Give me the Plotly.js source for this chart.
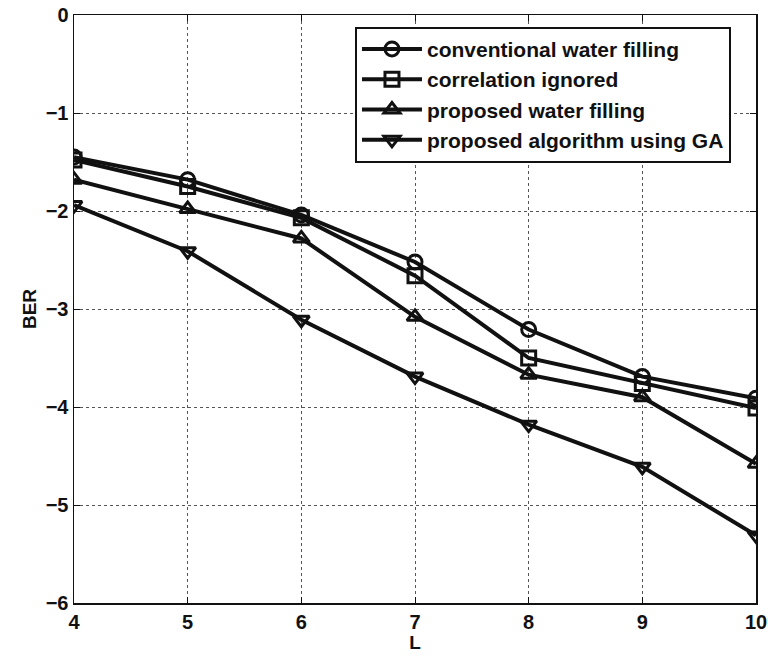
<!DOCTYPE html>
<html>
<head>
<meta charset="utf-8">
<script src="https://cdn.plot.ly/plotly-3.0.1.min.js"></script>
<style>html,body{margin:0;padding:0;background:#fff;}#chart{width:768px;height:659px;}</style>
</head>
<body>
<div id="chart"></div>
<script>
const L = [4, 5, 6, 7, 8, 9, 10];
const conventional = [-1.45, -1.68, -2.04, -2.52, -3.21, -3.69, -3.91];
const corrIgnored = [-1.48, -1.75, -2.07, -2.66, -3.50, -3.76, -4.01];
const proposedWF = [-1.68, -1.98, -2.28, -3.08, -3.67, -3.90, -4.58];
const proposedGA = [-1.94, -2.41, -3.11, -3.69, -4.18, -4.61, -5.31];
const xTickText = ['4', '5', '6', '7', '8', '9', '10'];
const yTickVals = [-6, -5, -4, -3, -2, -1, 0];
const yTickText = ['\u22126', '\u22125', '\u22124', '\u22123', '\u22122', '\u22121', '0'];
const names = ['conventional water filling', 'correlation ignored', 'proposed water filling', 'proposed algorithm using GA'];
const symbols = ['circle-open', 'square-open', 'triangle-up-open', 'triangle-down-open'];
const series = [conventional, corrIgnored, proposedWF, proposedGA];

const traces = series.map((ys, i) => ({
  x: L, y: ys, name: names[i], type: 'scatter', mode: 'lines+markers',
  line: {color: '#111', width: 4},
  marker: {symbol: symbols[i], size: 14, color: '#111', line: {width: 3, color: '#111'}}
}));

const fam = 'Liberation Sans, Arial, sans-serif';
const layout = {
  width: 768, height: 659,
  margin: {l: 74, r: 12, t: 15, b: 56},
  paper_bgcolor: '#fff', plot_bgcolor: '#fff',
  font: {family: fam, size: 18, color: '#111'},
  showlegend: true,
  legend: {x: 0.412, y: 0.98, xanchor: 'left', yanchor: 'top', bgcolor: '#fff', bordercolor: '#111', borderwidth: 2,
    font: {family: fam, size: 21, color: '#111', weight: 'bold'}, tracegroupgap: 0, itemwidth: 60},
  xaxis: {
    range: [4, 10], tickvals: L, ticktext: xTickText.map(t => '<b>' + t + '</b>'),
    tickfont: {family: fam, size: 20, color: '#111'},
    title: {text: '<b>L</b>', font: {family: fam, size: 19}, standoff: 4},
    showgrid: true, gridcolor: '#555', griddash: 'dot', gridwidth: 1,
    showline: true, linecolor: '#111', linewidth: 1.5, mirror: 'ticks',
    ticks: 'inside', ticklen: 6, tickcolor: '#111', zeroline: false
  },
  yaxis: {
    range: [-6, 0], tickvals: yTickVals, ticktext: yTickText.map(t => '<b>' + t + '</b>'),
    tickfont: {family: fam, size: 20, color: '#111'},
    title: {text: '<b>BER</b>', font: {family: fam, size: 19}, standoff: 4},
    showgrid: true, gridcolor: '#555', griddash: 'dot', gridwidth: 1,
    showline: true, linecolor: '#111', linewidth: 1.5, mirror: 'ticks',
    ticks: 'inside', ticklen: 6, tickcolor: '#111', zeroline: false
  }
};
Plotly.newPlot('chart', traces, layout, {displayModeBar: false, staticPlot: true});
</script>
</body>
</html>
